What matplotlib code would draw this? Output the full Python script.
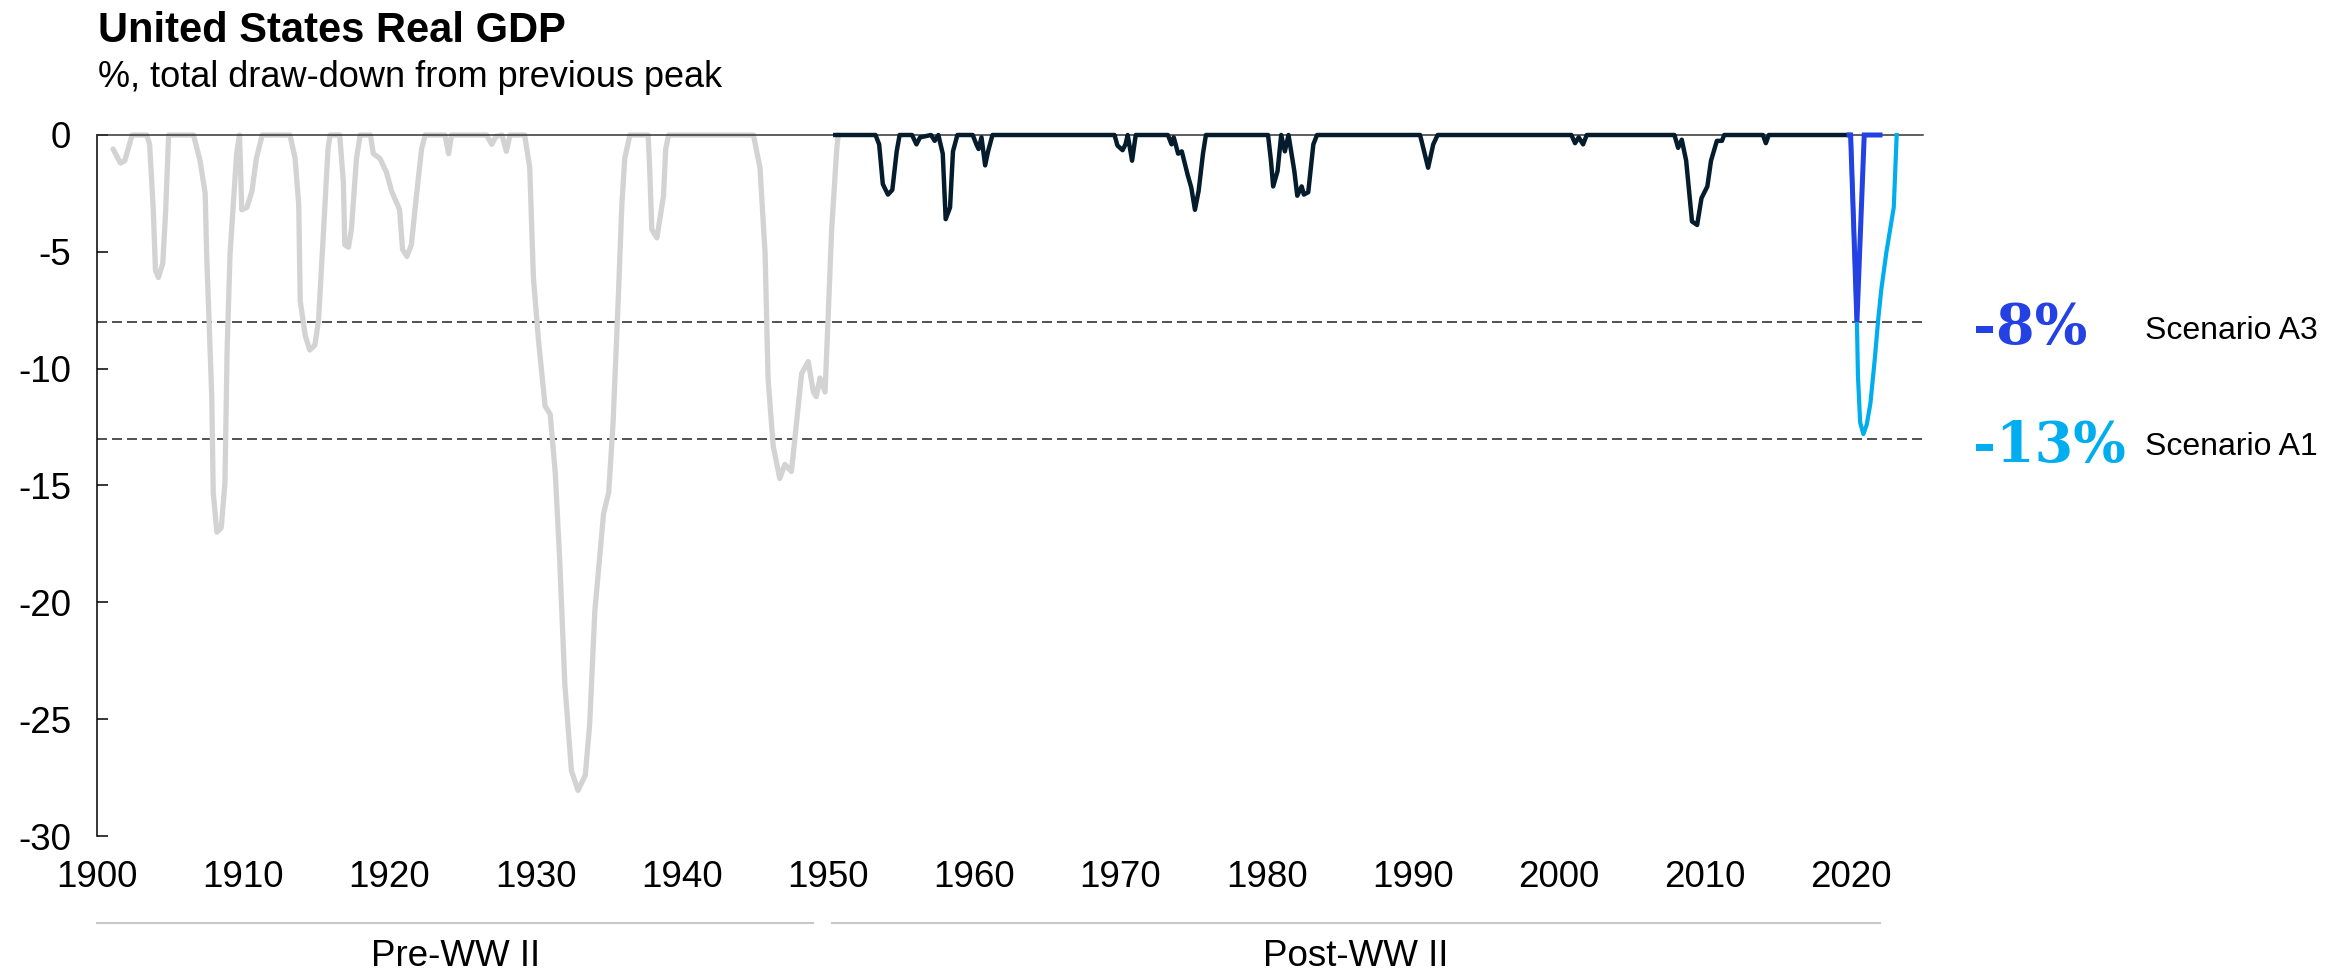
import matplotlib
import matplotlib.pyplot as plt

matplotlib.use('Agg')
plt.rcParams['font.family'] = ['Liberation Sans', 'DejaVu Sans']

# draw-down from previous peak, %
pre_years = [1901.1, 1901.6, 1901.9, 1902.4, 1903.4, 1903.6, 1903.85, 1904.0, 1904.2, 1904.5,
             1904.7, 1904.9, 1906.6, 1907.05, 1907.4, 1907.5, 1907.85, 1907.95, 1908.2, 1908.5,
             1908.75, 1908.9, 1909.1, 1909.55, 1909.75, 1909.9, 1910.25, 1910.6, 1910.9, 1911.3,
             1913.2, 1913.55, 1913.8, 1913.9, 1914.25, 1914.55, 1914.9, 1915.15, 1915.5, 1915.8,
             1915.95, 1916.6, 1916.85, 1916.95, 1917.2, 1917.4, 1917.75, 1918.0, 1918.7, 1918.9,
             1919.35, 1919.8, 1920.15, 1920.7, 1920.9, 1921.2, 1921.5, 1921.85, 1922.2, 1922.45,
             1923.8, 1924.05, 1924.25, 1926.65, 1927.0, 1927.3, 1927.7, 1928.0, 1928.25, 1929.25,
             1929.6, 1929.85, 1930.2, 1930.65, 1931.0, 1931.35, 1931.65, 1932.0, 1932.45, 1932.9,
             1933.4, 1933.7, 1934.05, 1934.65, 1935.0, 1935.3, 1935.65, 1935.9, 1936.1, 1936.45,
             1937.7, 1937.8, 1937.95, 1938.3, 1938.75, 1938.9, 1939.1, 1944.9, 1945.35, 1945.7,
             1945.9, 1946.25, 1946.7, 1947.05, 1947.5, 1947.85, 1948.2, 1948.65, 1949.0, 1949.2,
             1949.45, 1949.8, 1950.0, 1950.25, 1950.6, 1950.7]
pre_vals = [-0.6, -1.2, -1.1, 0, 0, -0.4, -3.2, -5.8, -6.1, -5.5,
            -3.2, 0, 0, -1.1, -2.5, -5.1, -11.2, -15.3, -17.0, -16.8,
            -14.9, -9.2, -5.1, -0.8, 0, -3.2, -3.1, -2.4, -1.0, 0,
            0, -1.0, -3.0, -7.1, -8.6, -9.2, -9.0, -7.95, -4.05, -0.6,
            0, 0, -2.0, -4.7, -4.8, -4.05, -1.0, 0, 0, -0.8,
            -1.0, -1.6, -2.4, -3.2, -4.9, -5.2, -4.7, -2.6, -0.6, 0,
            0, -0.8, 0, 0, -0.4, -0.05, 0, -0.7, 0, 0,
            -1.4, -6.1, -8.8, -11.6, -11.95, -14.5, -18.2, -23.5, -27.2, -28.05,
            -27.4, -25.2, -20.4, -16.2, -15.3, -12.3, -7.1, -3.0, -1.0, 0,
            0, -1.4, -4.05, -4.4, -2.6, -0.6, 0, 0, -1.4, -5.1,
            -10.4, -13.3, -14.7, -14.1, -14.4, -12.3, -10.2, -9.7, -11.0, -11.2,
            -10.4, -11.0, -7.95, -4.05, -0.6, 0]

post_years = [1950.5, 1953.25, 1953.5, 1953.75, 1954.1, 1954.4, 1954.7, 1954.9, 1955.75, 1956.05,
              1956.3, 1957.05, 1957.3, 1957.55, 1957.85, 1958.05, 1958.35, 1958.55, 1958.85, 1959.9,
              1960.15, 1960.3, 1960.5, 1960.75, 1960.95, 1961.25, 1969.6, 1969.8, 1970.15, 1970.35,
              1970.5, 1970.8, 1971.05, 1973.25, 1973.5, 1973.65, 1973.95, 1974.2, 1974.6, 1974.85,
              1975.1, 1975.35, 1975.65, 1975.85, 1980.1, 1980.3, 1980.45, 1980.75, 1981.0, 1981.25,
              1981.5, 1981.9, 1982.1, 1982.4, 1982.55, 1982.85, 1983.2, 1983.45, 1990.5, 1991.05,
              1991.4, 1991.7, 2000.85, 2001.1, 2001.35, 2001.65, 2001.9, 2007.9, 2008.15, 2008.4,
              2008.7, 2009.1, 2009.45, 2009.75, 2010.15, 2010.4, 2010.8, 2011.15, 2011.3, 2013.95,
              2014.15, 2014.35, 2019.85]
post_vals = [0, 0, -0.4, -2.1, -2.55, -2.35, -0.7, 0, 0, -0.4,
             -0.1, 0, -0.25, 0, -0.8, -3.6, -3.1, -0.7, 0, 0,
             -0.4, -0.6, -0.1, -1.3, -0.7, 0, 0, -0.45, -0.65, -0.4,
             0, -1.1, 0, 0, -0.4, -0.1, -0.8, -0.7, -1.7, -2.25,
             -3.2, -2.4, -0.8, 0, 0, -1.1, -2.2, -1.55, 0, -0.7,
             0, -1.55, -2.6, -2.2, -2.55, -2.45, -0.4, 0, 0, -1.4,
             -0.4, 0, 0, -0.35, -0.1, -0.4, 0, 0, -0.55, -0.2,
             -1.1, -3.7, -3.85, -2.7, -2.2, -1.1, -0.25, -0.25, 0, 0,
             -0.35, 0, 0]

a3_years = [2019.85, 2019.95, 2020.38, 2020.88, 2021.96]
a3_vals = [0, 0, -8.0, 0, 0]

a1_years = [2019.85, 2019.95, 2020.38, 2020.45, 2020.6, 2020.82, 2021.05, 2021.3, 2021.6,
            2021.85, 2022.05, 2022.4, 2022.9, 2023.1]
a1_vals = [0, 0, -8.0, -10.3, -12.3, -12.8, -12.4, -11.5, -9.6,
           -7.8, -6.6, -5.0, -3.1, 0]

scenario_levels = [-8, -13]
scenario_pct = ['-8%', '-13%']
scenario_names = ['Scenario A3', 'Scenario A1']

y_ticks = [0, -5, -10, -15, -20, -25, -30]
x_ticks = [1900, 1910, 1920, 1930, 1940, 1950, 1960, 1970, 1980, 1990, 2000, 2010, 2020]

GRAY = '#D3D3D3'
NAVY = '#051C2C'
BLUE = '#2441E4'
CYAN = '#00AEEF'

fig = plt.figure(figsize=(23.48, 9.8), dpi=100)
ax = fig.add_axes([97 / 2348, 1 - 836 / 980, 1826 / 2348, 701 / 980])
ax.set_xlim(1900, 2024.9)
ax.set_ylim(-30, 0)

for s in ['right', 'bottom']:
    ax.spines[s].set_visible(False)
ax.spines['top'].set_linewidth(1.1)
ax.spines['top'].set_color('#333333')
ax.spines['left'].set_linewidth(1.1)

for lvl in scenario_levels:
    ax.axhline(lvl, color='#333333', lw=1.2, ls=(0, (6, 3)), zorder=1)

ax.plot(pre_years, pre_vals, color=GRAY, lw=3.8, solid_joinstyle='round',
        solid_capstyle='round', clip_on=False, zorder=2)
ax.plot(post_years, post_vals, color=NAVY, lw=3.2, solid_joinstyle='round',
        clip_on=False, zorder=3)
ax.plot(a1_years, a1_vals, color=CYAN, lw=3.0, solid_joinstyle='round',
        clip_on=False, zorder=4)
ax.plot(a3_years, a3_vals, color=BLUE, lw=3.6, solid_joinstyle='miter',
        clip_on=False, zorder=5)

ax.set_yticks(y_ticks)
ax.set_yticklabels([str(v).replace('\u2212', '-') for v in y_ticks])
ax.set_xticks(x_ticks)
ax.set_xticklabels([str(v) for v in x_ticks])
ax.tick_params(axis='y', direction='in', length=8, width=1.1, pad=18.5, labelsize=26.5)
ax.tick_params(axis='x', length=0, pad=17, labelsize=26.5)

# scenario labels
pct_base = [-8.95, -14.0]
name_base = [-8.75, -13.7]
for pct, name, lvl, pb, nb in zip(scenario_pct, scenario_names, scenario_levels, pct_base, name_base):
    ax.text(2028.3, pb, pct, color=BLUE if lvl == -8 else CYAN, fontsize=40,
            fontweight='bold', family='DejaVu Serif', ha='left', va='baseline', clip_on=False)
    ax.text(2040.1, nb, name, color='black', fontsize=23, ha='left', va='baseline', clip_on=False)

# era brackets below the axis
trans = ax.get_xaxis_transform()
ax.plot([1900, 1948.97], [-0.124, -0.124], color='#C8C8C8', lw=1.5, transform=trans, clip_on=False)
ax.plot([1950.27, 2021.96], [-0.124, -0.124], color='#C8C8C8', lw=1.5, transform=trans, clip_on=False)
ax.text(1924.5, -0.1726, 'Pre-WW II', fontsize=26.5, ha='center', va='center', transform=trans)
ax.text(1986.1, -0.1726, 'Post-WW II', fontsize=26.5, ha='center', va='center', transform=trans)

fig.text(98 / 2348, 1 - 42 / 980, 'United States Real GDP', fontsize=30, fontweight='bold',
         ha='left', va='baseline')
fig.text(98 / 2348, 1 - 87 / 980, '%, total draw-down from previous peak', fontsize=26,
         ha='left', va='baseline')

fig.savefig('out.png', dpi=100)
